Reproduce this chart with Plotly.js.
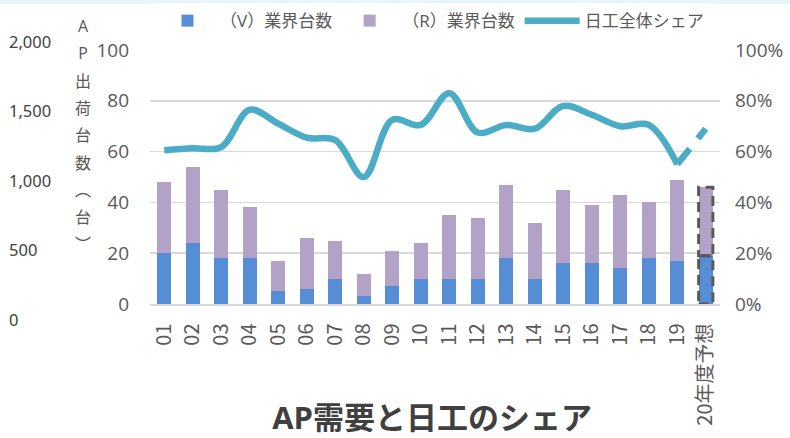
<!DOCTYPE html>
<html>
<head>
<meta charset="utf-8">
<script src="https://cdn.plot.ly/plotly-3.0.1.min.js"></script>
<style>
  html, body { margin: 0; padding: 0; background: #ffffff; }
  #chart { width: 790px; height: 438px; }
</style>
</head>
<body>
<div id="chart"></div>
<script>
// categories (fiscal years) and values
const CATS = ['01','02','03','04','05','06','07','08','09','10',
              '11','12','13','14','15','16','17','18','19','20年度予想'];
const V_UNITS = [20,24,18,18,5,6,10,3,7,10,10,10,18,10,16,16,14,18,17,19];
const R_UNITS = [28,30,27,20,12,20,15,9,14,14,25,24,29,22,29,23,29,22,32,27];
const SHARE = [60.5,61.3,61.8,76.5,71,65.5,64.5,50,72.5,70.5,83,67.5,70.5,69,78,74.5,70,70.5,55,69];
const FAR_LEFT_TICKS = [0,500,1000,1500,2000];

const FONT = 'Open Sans, "Noto Sans CJK JP", sans-serif';
const GREY = '#595959';

let last = CATS.length - 1;

let traceV = {
  x: CATS, y: V_UNITS, type: 'bar', name: '（V）業界台数',
  marker: { color: '#558ED5' }, hoverinfo: 'skip'
};
let traceR = {
  x: CATS, y: R_UNITS, type: 'bar', name: '（R）業界台数',
  marker: { color: '#B3A2C7' }, hoverinfo: 'skip'
};
// share line up to 19, then the forecast segment dashed
let traceShare = {
  x: CATS.slice(0, last), y: SHARE.slice(0, last), yaxis: 'y2',
  type: 'scatter', mode: 'lines', name: '日工全体シェア',
  line: { color: '#4BACC6', width: 6.5, shape: 'spline', smoothing: 1 }
};
let traceForecast = {
  x: CATS.slice(last - 1), y: SHARE.slice(last - 1), yaxis: 'y2',
  type: 'scatter', mode: 'lines', showlegend: false,
  line: { color: '#4BACC6', width: 6.5, dash: '20px,13px' }
};
// helper so the far-left unit axis gets drawn
let traceUnits = {
  x: FAR_LEFT_TICKS.map(() => 0), y: FAR_LEFT_TICKS, xaxis: 'x2', yaxis: 'y3',
  type: 'scatter', mode: 'markers', marker: { opacity: 0 },
  showlegend: false, hoverinfo: 'skip'
};

// dashed outline round the forecast bar segments
let shapes = [
  { type: 'rect', xref: 'x', yref: 'y', x0: last - 0.25, x1: last + 0.25,
    y0: 0, y1: V_UNITS[last], line: { color: GREY, width: 3, dash: '10px,6px' } },
  { type: 'rect', xref: 'x', yref: 'y', x0: last - 0.25, x1: last + 0.25,
    y0: V_UNITS[last], y1: V_UNITS[last] + R_UNITS[last],
    line: { color: GREY, width: 3, dash: '10px,6px' } },
  { type: 'rect', xref: 'paper', yref: 'paper', x0: -0.01, x1: 1.2,
    y0: 1.137, y1: 1.2, fillcolor: '#e6f6fb', line: { width: 0 }, layer: 'below' }
];

let vTitle = ['A','P','出','荷','台','数','︵','台','︶']
  .map(c => '<span style="font-size:16px">' + c + '</span>').join('<br>');

let layout = {
  width: 790, height: 438,
  margin: { l: 0, r: 70, t: 42, b: 118 },
  paper_bgcolor: '#ffffff', plot_bgcolor: '#ffffff',
  font: { family: FONT, color: GREY },
  barmode: 'stack', bargap: 0.5,
  title: {
    text: 'AP需要と日工のシェア',
    font: { family: FONT, size: 31, color: '#404040', weight: 'bold' },
    xref: 'container', yref: 'container', x: 0.547, y: 0.045,
    xanchor: 'center', yanchor: 'middle'
  },
  xaxis: {
    type: 'category', domain: [150 / 720, 1], anchor: 'y',
    tickangle: -90, tickfont: { family: '"Noto Sans CJK JP", sans-serif', size: 20, color: GREY },
    showline: true, linecolor: '#d9d9d9', linewidth: 1.5,
    ticks: '', ticklabelstandoff: 10, showgrid: false
  },
  yaxis: {
    domain: [16 / 278, 270 / 278], range: [0, 100], dtick: 20,
    tickfont: { size: 19, color: GREY }, ticks: '', ticklabelstandoff: 20,
    gridcolor: '#d9d9d9', gridwidth: 1.5, zeroline: false, showline: false
  },
  yaxis2: {
    overlaying: 'y', side: 'right', range: [0, 100], dtick: 20, ticksuffix: '%',
    tickfont: { size: 19, color: GREY }, ticks: '', ticklabelstandoff: 14,
    showgrid: false, zeroline: false
  },
  xaxis2: { domain: [0, 0.05], anchor: 'y3', visible: false, range: [-1, 1] },
  yaxis3: {
    domain: [0, 1], range: [0, 2000], tickvals: FAR_LEFT_TICKS, tickformat: ',',
    side: 'right', anchor: 'free', position: 0.0, ticks: '', ticklabelstandoff: 8,
    tickfont: { family: '"Noto Sans", sans-serif', size: 16.5, color: '#404040' },
    showgrid: false, zeroline: false, showline: false
  },
  legend: {
    orientation: 'h', traceorder: 'normal',
    x: 0.6, xanchor: 'center', y: 1.14, yanchor: 'top',
    font: { size: 17, color: GREY }, itemwidth: 55
  },
  annotations: [{
    text: vTitle, xref: 'paper', yref: 'paper', x: 83 / 720, y: 0.665,
    showarrow: false, font: { family: FONT, size: 21, color: GREY },
    xanchor: 'center', yanchor: 'middle'
  }],
  shapes: shapes
};

Plotly.newPlot('chart', [traceV, traceR, traceShare, traceForecast, traceUnits], layout,
  { displayModeBar: false, staticPlot: true });
</script>
</body>
</html>
